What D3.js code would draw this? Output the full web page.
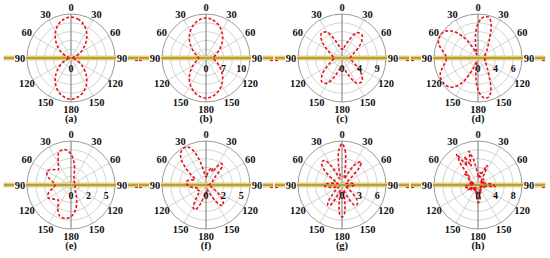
<!DOCTYPE html>
<html>
<head>
<meta charset="utf-8">
<script src="https://cdn.jsdelivr.net/npm/d3@7"></script>
<style>
  body { margin: 0; background: #fff; }
  text { font-family: "Liberation Serif", "Times New Roman", serif; font-weight: bold; fill: #111; }
</style>
</head>
<body>
<svg id="chart" width="550" height="258"></svg>
<script>
// angle grids (degrees, clockwise from top)
var ang10 = [0,10,20,30,40,50,60,70,80,90,100,110,120,130,140,150,160,170,
  180,190,200,210,220,230,240,250,260,270,280,290,300,310,320,330,340,350];
var ang5 = [0,5,10,15,20,25,30,35,40,45,50,55,60,65,70,75,80,85,
  90,95,100,105,110,115,120,125,130,135,140,145,150,155,160,165,170,175,
  180,185,190,195,200,205,210,215,220,225,230,235,240,245,250,255,260,265,
  270,275,280,285,290,295,300,305,310,315,320,325,330,335,340,345,350,355];

// normalised radii (1 = outer ring)
var patA = [0.93,0.90,0.82,0.70,0.55,0.39,0.24,0.11,0.04,0.02,0.04,0.11,0.24,0.39,0.55,0.70,0.82,0.90,
  0.94,0.90,0.82,0.70,0.55,0.39,0.24,0.11,0.04,0.02,0.04,0.11,0.24,0.39,0.55,0.70,0.82,0.90];
var patB = [0.91,0.88,0.81,0.71,0.59,0.46,0.34,0.25,0.19,0.17,0.19,0.25,0.34,0.46,0.59,0.71,0.81,0.88,
  0.91,0.88,0.81,0.71,0.59,0.46,0.34,0.25,0.19,0.17,0.19,0.25,0.34,0.46,0.59,0.71,0.81,0.88];
var patC = [0.20,0.24,0.40,0.66,0.70,0.58,0.40,0.27,0.21,0.19,0.21,0.27,0.40,0.58,0.70,0.66,0.40,0.24,
  0.20,0.24,0.40,0.66,0.71,0.59,0.40,0.27,0.21,0.18,0.21,0.27,0.40,0.60,0.73,0.68,0.40,0.24];
var patD = [0.78,0.90,0.95,0.96,0.86,0.70,0.53,0.43,0.35,0.30,0.26,0.23,0.20,0.18,0.17,0.16,0.16,0.16,
  0.16,0.16,0.16,0.16,0.17,0.18,0.20,0.22,0.25,0.29,0.34,0.42,0.52,0.68,0.84,0.92,0.93,0.86,
  0.72,0.50,0.28,0.12,0.08,0.30,0.55,0.74,0.86,0.93,0.96,0.97,0.97,0.95,0.90,0.83,0.77,0.73,
  0.72,0.74,0.80,0.88,0.95,0.99,1.00,0.99,0.95,0.87,0.75,0.58,0.40,0.22,0.08,0.12,0.32,0.58];
var patE = [0.70,0.45,0.20,0.13,0.11,0.10,0.10,0.10,0.10,0.10,0.10,0.10,0.10,0.12,0.15,0.22,0.38,0.58,
  0.72,0.77,0.75,0.60,0.45,0.50,0.59,0.55,0.42,0.36,0.42,0.56,0.63,0.55,0.45,0.58,0.80,0.82];
var patF = [0.18,0.22,0.30,0.38,0.41,0.33,0.45,0.60,0.58,0.40,0.25,0.20,0.18,0.15,0.12,0.10,0.08,0.06,
  0.05,0.06,0.08,0.10,0.13,0.18,0.25,0.34,0.45,0.55,0.60,0.55,0.40,0.25,0.15,0.10,0.10,0.15,
  0.22,0.20,0.25,0.40,0.55,0.62,0.58,0.42,0.28,0.20,0.20,0.22,0.20,0.18,0.20,0.25,0.32,0.38,
  0.42,0.45,0.45,0.42,0.35,0.28,0.30,0.42,0.60,0.78,0.90,0.96,0.98,0.95,0.82,0.60,0.35,0.22];
var patG = [0.94,0.80,0.45,0.20,0.15,0.25,0.45,0.62,0.68,0.55,0.30,0.15,0.10,0.10,0.12,0.18,0.24,0.28,
  0.28,0.24,0.16,0.10,0.08,0.10,0.15,0.22,0.35,0.48,0.55,0.56,0.50,0.32,0.15,0.12,0.35,0.65,
  0.73,0.65,0.35,0.12,0.15,0.35,0.52,0.56,0.48,0.30,0.18,0.10,0.08,0.10,0.14,0.20,0.30,0.38,
  0.40,0.36,0.25,0.15,0.10,0.12,0.20,0.35,0.52,0.65,0.70,0.68,0.52,0.30,0.15,0.15,0.45,0.80];
var patH = [0.25,0.15,0.30,0.18,0.35,0.50,0.30,0.15,0.12,0.20,0.10,0.15,0.08,0.12,0.10,0.15,0.20,0.30,
  0.35,0.38,0.20,0.10,0.12,0.08,0.10,0.06,0.10,0.08,0.12,0.10,0.15,0.10,0.20,0.12,0.30,0.38,
  0.40,0.30,0.15,0.20,0.10,0.15,0.08,0.12,0.10,0.15,0.12,0.20,0.15,0.22,0.18,0.25,0.30,0.30,
  0.20,0.12,0.20,0.10,0.20,0.15,0.25,0.20,0.40,0.30,0.60,0.86,0.50,0.72,0.45,0.80,0.60,0.35];

var panelLetters = ['(a)','(b)','(c)','(d)','(e)','(f)','(g)','(h)'];
var radialLabels = [['0'],['0','7','10'],['0','4','9'],['0','4','6'],
  ['0','2','5'],['0','2','5'],['0','3','6'],['0','4','8']];
var angleLabels = ['0','30','60','90','120','150','180','150','120','90','60','30'];

var panels = [
  {ang: ang10, val: patA, curve: d3.curveCatmullRomClosed},
  {ang: ang10, val: patB, curve: d3.curveCatmullRomClosed},
  {ang: ang10, val: patC, curve: d3.curveCatmullRomClosed},
  {ang: ang5, val: patD, curve: d3.curveCatmullRomClosed},
  {ang: ang10, val: patE, curve: d3.curveCatmullRomClosed},
  {ang: ang5, val: patF, curve: d3.curveCatmullRomClosed},
  {ang: ang5, val: patG, curve: d3.curveCatmullRomClosed},
  {ang: ang5, val: patH, curve: d3.curveLinearClosed}
];

var svg = d3.select('#chart');
var colX = [71, 206, 342, 478];
var rowY = [58, 185];
var R = 44;
var rScale = d3.scaleLinear().domain([0, 1]).range([0, R]);
var rings = [0.2, 0.4, 0.6, 0.8];
var spokes = d3.range(0, 360, 30);
var rad = Math.PI / 180;

panels.forEach(function (p, i) {
  var cx = colX[i % 4], cy = rowY[Math.floor(i / 4)];
  var g = svg.append('g').attr('transform', 'translate(' + cx + ',' + cy + ')');

  g.selectAll('.ring').data(rings).enter().append('circle')
    .attr('r', function (d) { return rScale(d); })
    .attr('fill', 'none').attr('stroke', '#c8c8c8').attr('stroke-width', 0.8);
  g.selectAll('.spoke').data(spokes).enter().append('line')
    .attr('x2', function (d) { return rScale(1) * Math.sin(d * rad); })
    .attr('y2', function (d) { return -rScale(1) * Math.cos(d * rad); })
    .attr('stroke', function (d) { return d % 180 === 0 ? '#777' : '#c8c8c8'; })
    .attr('stroke-width', function (d) { return d % 180 === 0 ? 1 : 0.8; });
  g.append('circle').attr('r', rScale(1))
    .attr('fill', 'none').attr('stroke', '#9a9a9a').attr('stroke-width', 1);

  // yellow bar through the middle
  var half = 67;
  g.append('rect').attr('x', -half).attr('y', -2).attr('width', 2 * half).attr('height', 4)
    .attr('fill', '#f6dc6e').attr('stroke', '#d2ad40').attr('stroke-width', 0.5);
  g.append('line').attr('x1', -half).attr('x2', half)
    .attr('stroke', '#5e5424').attr('stroke-width', 0.9);
  g.append('line').attr('x1', half - 3).attr('x2', half).attr('y1', 2.5).attr('y2', 2.5)
    .attr('stroke', '#e0202a').attr('stroke-width', 1.2);
  if (i % 4 !== 0) {
    g.append('line').attr('x1', -half).attr('x2', -half + 3).attr('y1', 2.5).attr('y2', 2.5)
      .attr('stroke', '#e0202a').attr('stroke-width', 1.2);
  }

  // pattern
  var line = d3.lineRadial()
    .angle(function (d) { return d[0] * rad; })
    .radius(function (d) { return rScale(d[1]); })
    .curve(p.curve);
  g.append('path').datum(p.ang.map(function (a, k) { return [a, p.val[k]]; }))
    .attr('d', line)
    .attr('fill', 'none').attr('stroke', '#e8141c').attr('stroke-width', 1.6)
    .attr('stroke-dasharray', '3,2');

  // angle labels
  var lr = 51;
  angleLabels.forEach(function (t, k) {
    var a = k * 30 * rad;
    var x = lr * Math.sin(a), y = -lr * Math.cos(a);
    if (k === 3 || k === 9) {
      g.append('rect').attr('x', x - 6).attr('y', -2.5).attr('width', 12).attr('height', 5).attr('fill', '#fff');
    }
    g.append('text').attr('x', x).attr('y', y).attr('text-anchor', 'middle')
      .attr('dy', '0.35em').attr('font-size', 10.5).text(t);
  });

  // radial labels
  radialLabels[i].forEach(function (t, k) {
    g.append('text').attr('x', rScale(k * 0.4)).attr('y', 10)
      .attr('text-anchor', 'middle').attr('dy', '0.35em').attr('font-size', 10).text(t);
  });

  g.append('text').attr('x', 0).attr('y', 60.5).attr('text-anchor', 'middle')
    .attr('dy', '0.35em').attr('font-size', 10.5).attr('font-weight', 'normal').text(panelLetters[i]);
});
</script>
</body>
</html>
